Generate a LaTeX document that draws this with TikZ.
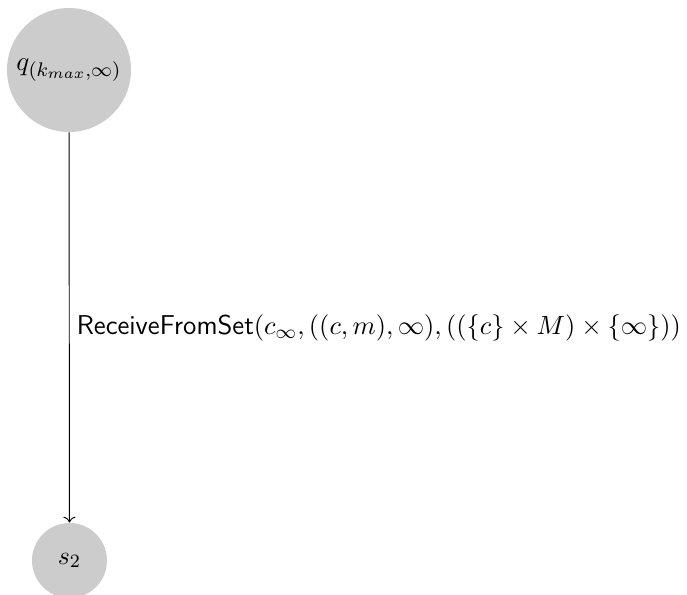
\documentclass[tikz,border=0pt]{standalone}
\usepackage{graphicx}
\usetikzlibrary{arrows.meta}
\begin{document}
\begin{tikzpicture}[x=0.4255pt,y=-0.4255pt,
  font=\fontsize{11.3}{13.6}\selectfont,
  state/.style={circle,fill=black!20,draw=none,inner sep=0pt},
  conn/.style={->,thin}]
\useasboundingbox (0,0) rectangle (687,594);
\node[state,minimum size=124*0.4255pt] (q) at (69,70) {\scalebox{1.05}{$q_{(k_{max},\infty)}$}};
\node[state,minimum size=75*0.4255pt] (s) at (69.5,560.5) {$s_2$};
\draw[conn] (q) -- node[right,inner sep=3pt] {\scalebox{1.025}{\textsf{ReceiveFromSet}$(c_\infty,((c,m),\infty),((\{c\}\times M)\times\{\infty\}))$}} (s);
\end{tikzpicture}
\end{document}
